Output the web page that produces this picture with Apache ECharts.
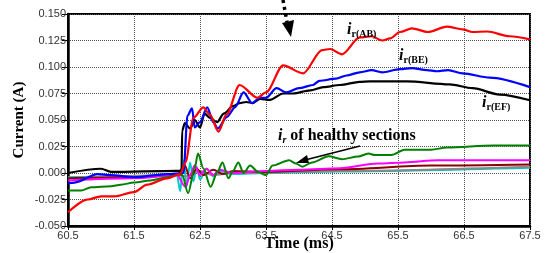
<!DOCTYPE html>
<html><head><meta charset="utf-8">
<script src="https://cdn.jsdelivr.net/npm/echarts@6/dist/echarts.min.js"></script>
<style>html,body{margin:0;padding:0;background:#fff}#c{width:545px;height:253px}</style>
</head><body><div id="c"></div>
<script>
// x-axis tick labels (ms) and y-axis range
const T0 = 60.5;
const xTicks = ['60.5','61.5','62.5','63.5','64.5','65.5','66.5','67.5'];

// i_r(AB) - red
const abT = [60.5,60.8,61.0,61.2,61.5,61.7,62.0,62.2,62.28,62.4,62.55,62.65,62.78,62.9,63.1,63.37,63.5,63.76,64.06,64.35,64.47,64.65,64.92,65.1,65.26,65.38,65.53,65.71,65.95,66.24,66.48,66.63,66.85,67.19,67.5];
const abV = [-0.037,-0.025,-0.022,-0.022,-0.018,-0.011,-0.005,-0.001,0.010,0.052,0.062,0.055,0.039,0.055,0.083,0.071,0.076,0.1015,0.094,0.116,0.117,0.112,0.128,0.129,0.125,0.127,0.133,0.1365,0.133,0.138,0.1355,0.133,0.1335,0.129,0.126];

// i_r(BE) - blue
const beT = [60.5,60.6,60.95,61.15,61.5,62.0,62.25,62.31,62.38,62.42,62.5,62.61,62.7,62.77,62.91,63.03,63.16,63.29,63.41,63.5,63.66,63.81,64.0,64.21,64.31,64.56,64.72,64.92,65.1,65.26,65.53,65.71,65.94,66.09,66.26,66.48,66.89,67.5];
const beV = [-0.0097,-0.009,-0.001,-0.002,-0.004,-0.001,0.000,0.054,0.061,0.043,0.048,0.062,0.048,0.042,0.053,0.062,0.076,0.066,0.071,0.071,0.080,0.076,0.080,0.083,0.087,0.089,0.092,0.095,0.097,0.095,0.098,0.099,0.097,0.096,0.097,0.094,0.090,0.081];

// i_r(EF) - black
const efT = [60.5,61.0,61.15,62.15,62.22,62.23,62.27,62.35,62.42,62.5,62.57,62.65,62.76,62.86,63.0,63.1,63.2,63.3,63.41,63.56,63.76,63.91,64.17,64.37,64.62,64.92,65.07,65.63,66.28,66.63,67.04,67.5];
const efV = [0.000,0.004,0.001,0.002,0.002,0.040,0.047,0.042,0.050,0.043,0.056,0.052,0.048,0.056,0.063,0.066,0.067,0.066,0.070,0.069,0.075,0.075,0.078,0.081,0.083,0.086,0.0865,0.0865,0.0837,0.080,0.074,0.0686];

// healthy sections
const grT = [60.5,60.7,60.85,61.15,61.3,61.5,61.75,62.0,62.15,62.23,62.32,62.42,62.47,62.55,62.66,62.77,62.84,62.93,63.0,63.08,63.16,63.26,63.38,63.5,63.6,63.85,63.95,64.05,64.2,64.45,64.65,64.9,65.05,65.15,65.4,65.6,66.0,66.24,66.95,67.5];
const grV = [-0.0165,-0.0165,-0.0135,-0.0125,-0.011,-0.009,-0.007,-0.004,-0.001,-0.002,-0.019,0.005,0.0185,0.0045,-0.013,0.002,0.010,-0.005,0.002,0.010,0.000,0.007,0.001,-0.002,0.007,0.012,0.009,0.006,0.010,0.0157,0.013,0.0155,0.0185,0.017,0.017,0.022,0.022,0.024,0.026,0.026];

const mgT = [60.5,61.5,62.15,62.28,62.35,62.42,62.5,62.6,62.7,62.8,63.0,63.5,64.0,64.62,65.2,65.6,66.1,67.5];
const mgV = [-0.007,-0.005,-0.002,-0.013,-0.002,0.007,-0.002,0.004,-0.002,0.003,0.000,0.002,0.003,0.0045,0.009,0.010,0.012,0.012];

const mrT = [60.5,61.5,62.15,62.27,62.35,62.45,62.55,62.7,62.85,63.0,63.5,64.6,66.0,67.5];
const mrV = [-0.005,-0.004,-0.002,0.007,-0.005,0.004,-0.002,0.003,-0.001,0.002,0.001,0.0035,0.007,0.008];

const cyT = [60.5,61.5,62.15,62.2,62.25,62.3,62.35,62.4,62.45,62.5,62.6,62.7,62.8,63.0,63.5,64.6,67.5];
const cyV = [-0.004,-0.003,-0.002,-0.017,0.012,-0.012,0.010,-0.008,0.006,-0.006,0.004,-0.003,0.002,-0.001,0.000,0.0015,0.005];

const gyT = [60.5,62.15,62.3,62.5,62.7,63.0,64.6,67.5];
const gyV = [-0.005,-0.002,-0.003,0.002,-0.002,0.000,0.002,0.006];

function pts(t, v){ return t.map((x,i)=>[x - T0, v[i]]); }
function line(name, t, v, color, w){
  return {name, type:'line', data:pts(t,v), showSymbol:false, smooth:0.3, smoothMonotone:'x',
    lineStyle:{color, width:w}, itemStyle:{color}, animation:false, z:3};
}

const chart = echarts.init(document.getElementById('c'));
const serif = '"Liberation Serif","DejaVu Serif",serif';
const sub = {fontFamily:serif, fontWeight:'bold', fontSize:10, fill:'#000', padding:[8,0,0,0]};
const ital = {fontFamily:serif, fontStyle:'italic', fontWeight:'bold', fontSize:16, fill:'#000'};
chart.setOption({
  animation:false,
  grid:{left:68, right:15, top:14, bottom:27, outerBoundsMode:'none', containLabel:false, show:true, borderColor:'#000', borderWidth:2, backgroundColor:'transparent'},
  xAxis:{type:'value', min:0, max:7, interval:1,
    name:'Time (ms)', nameLocation:'middle', nameGap:10, nameMoveOverlap:false,
    nameTextStyle:{fontFamily:serif, fontWeight:'bold', fontSize:16, color:'#000'},
    axisLine:{onZero:false, lineStyle:{color:'#000', width:2.5}},
    axisTick:{show:true, length:4, inside:false, lineStyle:{color:'#000'}},
    axisLabel:{formatter:v=>xTicks[Math.round(v)], fontFamily:'"Liberation Sans",Arial,sans-serif', fontSize:11, color:'#333', margin:4},
    splitLine:{show:true, lineStyle:{type:'dotted', color:'#555', width:1}}},
  yAxis:{type:'value', min:-0.05, max:0.15, interval:0.025,
    name:'Current (A)', nameLocation:'middle', nameGap:41, nameRotate:90, nameMoveOverlap:false,
    nameTextStyle:{fontFamily:serif, fontWeight:'bold', fontSize:15, color:'#000'},
    axisLine:{show:true, onZero:false, lineStyle:{color:'#000', width:2.5}},
    axisTick:{show:true, length:6, lineStyle:{color:'#000'}},
    axisLabel:{formatter:v=>v.toFixed(3), fontFamily:'"Liberation Sans",Arial,sans-serif', fontSize:11, color:'#333', margin:2},
    splitLine:{show:true, lineStyle:{type:'dotted', color:'#555', width:1}}},
  series:[
    line('cyan', cyT, cyV, '#00c8c8', 2),
    line('gray', gyT, gyV, '#888888', 2),
    line('maroon', mrT, mrV, '#8b0000', 2),
    line('magenta', mgT, mgV, '#ff00ff', 2),
    line('green', grT, grV, '#008000', 2),
    line('EF', efT, efV, '#000000', 2.2),
    line('BE', beT, beV, '#0000ff', 2.2),
    line('AB', abT, abV, '#ff0000', 2.2)
  ],
  graphic:[
    {type:'text', x:347, y:21, z:10, style:{text:'{i|i}{s|r(AB)}', rich:{i:ital, s:sub}}},
    {type:'text', x:399, y:47, z:10, style:{text:'{i|i}{s|r(BE)}', rich:{i:ital, s:sub}}},
    {type:'text', x:482, y:94, z:10, style:{text:'{i|i}{s|r(EF)}', rich:{i:ital, s:sub}}},
    {type:'text', x:278, y:127, z:10, style:{text:'{i|i}{s|r}{t| of healthy sections}', rich:{i:ital, s:Object.assign({}, sub, {fontStyle:'italic'}), t:{fontFamily:serif, fontWeight:'bold', fontSize:16, fill:'#000'}}}},
    {type:'line', z:10, shape:{x1:360, y1:146, x2:305, y2:160}, style:{stroke:'#000', lineWidth:1.5}},
    {type:'polygon', z:10, shape:{points:[[296,163],[307,155],[309,163]]}, style:{fill:'#000'}},
    {type:'line', z:10, shape:{x1:283, y1:0, x2:287, y2:22}, style:{stroke:'#000', lineWidth:3.5, lineDash:[3,4]}},
    {type:'polygon', z:10, shape:{points:[[282,23],[294,20],[291,37]]}, style:{fill:'#000'}}
  ]
});
</script></body></html>
